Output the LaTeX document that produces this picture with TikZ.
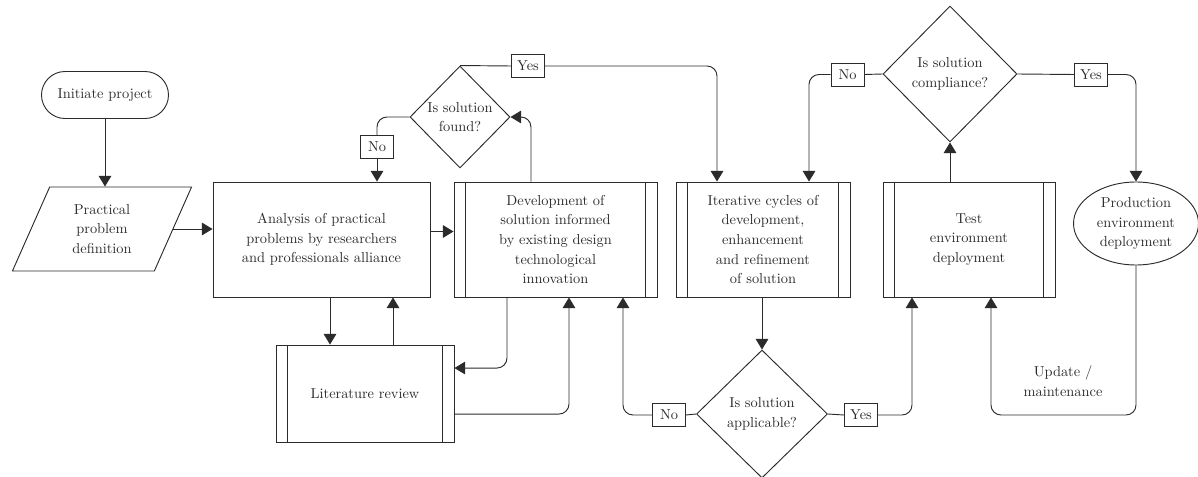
\documentclass[tikz,border=0pt]{standalone}
\usetikzlibrary{shapes.geometric,shapes.misc,arrows.meta}
\definecolor{ink}{HTML}{2B2B2B}
\begin{document}
\begin{tikzpicture}[x=0.75pt,y=-0.75pt,
  every node/.style={font=\fontsize{10.8}{14.8}\selectfont, text=ink, align=center},
  base/.style={draw=ink, line width=0.7pt, inner sep=0pt},
  procbox/.style={base, rectangle},
  predef/.style={base, rectangle, path picture={
      \draw[ink, line width=0.7pt] ([xshift=8.3pt]path picture bounding box.north west) -- ([xshift=8.3pt]path picture bounding box.south west);
      \draw[ink, line width=0.7pt] ([xshift=-8.3pt]path picture bounding box.north east) -- ([xshift=-8.3pt]path picture bounding box.south east);}},
  decision/.style={base, diamond},
  term/.style={base, rounded rectangle},
  iobox/.style={base, trapezium, trapezium left angle=67, trapezium right angle=113, trapezium stretches=true},
  oval/.style={base, ellipse},
  tag/.style={base, rectangle, fill=white, minimum width=24.75pt, minimum height=17.25pt},
  line/.style={draw=ink, line width=0.7pt, rounded corners=7.5pt},
  arr/.style={line, -{Triangle[length=8pt,width=9.5pt]}}
]
\useasboundingbox (0,0) rectangle (1198,477);

% nodes
\node[term, minimum width=95.25pt, minimum height=35.25pt] (init) at (105,95) {Initiate project};
\node[iobox, minimum width=135pt, minimum height=63pt] (ppd) at (102,229) {Practical\\problem\\definition};
\node[procbox, minimum width=162.75pt, minimum height=86.25pt] (ana) at (321.5,239.5) {Analysis of practical\\problems by researchers\\and professionals alliance};
\node[predef, minimum width=152.25pt, minimum height=86.25pt] (dev) at (555.5,239.5) {Development of\\solution informed\\by existing design\\technological\\innovation};
\node[predef, minimum width=133.5pt, minimum height=72.75pt] (lit) at (365,393.5) {Literature review};
\node[predef, minimum width=130.5pt, minimum height=86.25pt] (iter) at (763,239.5) {Iterative cycles of\\development,\\enhancement\\and refinement\\of solution};
\node[predef, minimum width=129pt, minimum height=86.25pt] (test) at (969,239.5) {Test\\environment\\deployment};
\node[decision, minimum width=75pt, minimum height=76.5pt] (found) at (460,117) {Is solution\\found?};
\node[decision, minimum width=98.25pt, minimum height=96pt] (app) at (762,414) {Is solution\\applicable?};
\node[decision, minimum width=100.5pt, minimum height=102pt] (comp) at (950,74) {Is solution\\compliance?};
\node[oval, minimum width=93.75pt, minimum height=62.25pt] (prod) at (1136,223.5) {Production\\environment\\deployment};

\node[tag] (nof) at (377,147) {No};
\node[tag] (yesf) at (528,66) {Yes};
\node[tag] (noa) at (669,415) {No};
\node[tag] (yesa) at (861,415) {Yes};
\node[tag] (noc) at (847.5,74.5) {No};
\node[tag] (yesc) at (1091,74.5) {Yes};
\node (updlbl) at (1063,381.5) {Update /\\maintenance};

% helper coordinates
\coordinate (a1) at ([xshift=-26.25pt]lit.north);
\coordinate (a2) at ([xshift=21pt]lit.north);
\coordinate (d1) at ([xshift=-36.4pt]dev.south);
\coordinate (l1) at ([yshift=19.1pt]lit.east);
\coordinate (l2) at ([yshift=-15.4pt]lit.east);
\coordinate (d2) at ([xshift=10.1pt]dev.south);
\coordinate (d3) at ([xshift=50.6pt]dev.south);
\coordinate (dtop) at ([xshift=-18.4pt]dev.north);
\coordinate (itop1) at ([xshift=-34.5pt]iter.north);
\coordinate (itop2) at ([xshift=34.5pt]iter.north);
\coordinate (tbot) at ([xshift=-42.75pt]test.south);
\coordinate (tbot2) at ([xshift=16.5pt]test.south);
\coordinate (upd) at (1063,415);

% connectors
\draw[arr] (init.south) -- (init.south |- ppd.north);
\draw[arr] (ppd.east) -- (ppd.east -| ana.west);
\draw[arr] ([yshift=6pt]ana.east) -- ([yshift=6pt]dev.west);
\draw[line] (found.west) -| (nof.north);
\draw[arr] (nof.south) -- (nof.south |- ana.north);
\draw[arr] (dtop) |- (found.east);
\draw[line] (found.north) -- (yesf.west);
\draw[arr] (yesf.east) -| (itop1);
\draw[arr] (a1 |- ana.south) -- (a1);
\draw[arr] (a2) -- (a2 |- ana.south);
\draw[arr] (d1) |- (l1);
\draw[arr] (l2) -| (d2);
\draw[line] (app.west) -- (noa.east);
\draw[arr] (noa.west) -| (d3);
\draw[arr] (iter.south -| app.north) -- (app.north);
\draw[line] (app.east) -- (yesa.west);
\draw[arr] (yesa.east) -| (tbot);
\draw[arr] (comp.south |- test.north) -- (comp.south);
\draw[line] (comp.west) -- (noc.east);
\draw[arr] (noc.west) -| (itop2);
\draw[line] (comp.east) -- (yesc.west);
\draw[arr] (yesc.east) -| (prod.north);
\draw[arr] (prod.south) |- (upd) -| (tbot2);
\end{tikzpicture}
\end{document}
